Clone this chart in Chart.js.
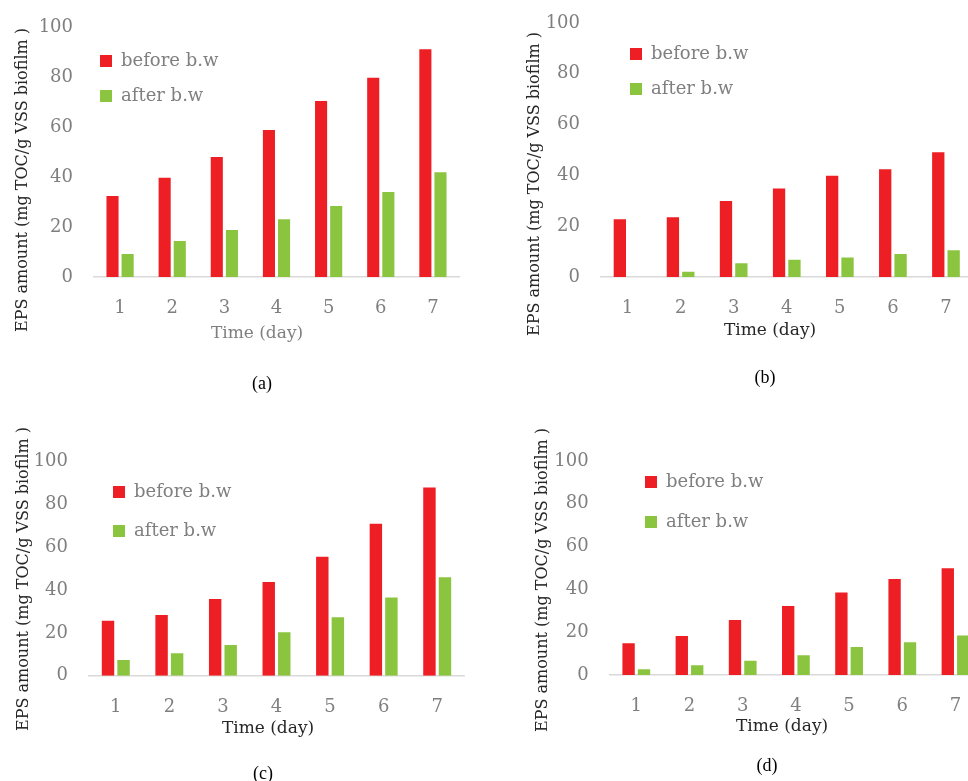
<!DOCTYPE html>
<html>
<head>
<meta charset="utf-8">
<title>EPS amount before / after b.w</title>
<script src="https://cdn.jsdelivr.net/npm/chart.js@4.4.1/dist/chart.umd.min.js"></script>
<style>
  html, body { margin: 0; padding: 0; background: #fff; overflow: hidden; }
  #page { position: relative; width: 968px; height: 781px; overflow: hidden; }
  #page canvas { position: absolute; }
  .txt { position: absolute; white-space: pre; font-family: "DejaVu Serif"; transform: translate(-50%, -50%); line-height: 1; }
  .ytitle { font-size: 16px; color: #262626; transform: translate(-50%, -50%) rotate(-90deg); }
  .xtitle { font-size: 17px; color: #262626; }
  .caption { font-family: "Liberation Serif"; font-size: 18px; color: #000; }
</style>
</head>
<body>
<div id="page"></div>
<script>
/*------------------------------------------------
    データ
------------------------------------------------*/
const days = ['1', '2', '3', '4', '5', '6', '7'];
const yTicks = [0, 20, 40, 60, 80, 100];
const seriesNames = ['before b.w', 'after b.w'];

// (a)
const beforeA = [32.4, 39.7, 48.0, 58.8, 70.4, 79.7, 91.1];
const afterA  = [9.2, 14.4, 18.8, 23.1, 28.4, 34.0, 41.9];
// (b)
const beforeB = [22.7, 23.5, 29.9, 34.8, 39.9, 42.4, 49.1];
const afterB  = [0, 2.1, 5.4, 6.8, 7.7, 9.1, 10.5];
// (c)
const beforeC = [25.7, 28.4, 35.8, 43.8, 55.6, 71.0, 88.0];
const afterC  = [7.3, 10.5, 14.3, 20.3, 27.3, 36.6, 46.0];
// (d)
const beforeD = [14.8, 18.2, 25.7, 32.2, 38.5, 44.9, 49.9];
const afterD  = [2.7, 4.5, 6.7, 9.2, 13.1, 15.3, 18.5];

const RED = '#ED1F24';
const GREEN = '#8BC53F';
const GREY = '#7f7f7f';
const LEGEND_FONT = 18;
const LEGEND_BOX = 12;

Chart.defaults.font.family = '"DejaVu Serif"';

// 凡例をプロット領域の中に置く
const legendSpot = {
    id: 'legendSpot',
    afterLayout(chart, args, opts) {
        const lg = chart.legend;
        if (!lg || opts.x == null) return;
        const pad = opts.gap - LEGEND_FONT;
        lg.left = opts.x - pad;
        lg.top = opts.y - (LEGEND_FONT - LEGEND_BOX) / 2 - pad;
        lg.right = chart.chartArea.right;
        lg.bottom = chart.chartArea.bottom;
        lg.width = lg.right - lg.left;
        lg.height = lg.bottom - lg.top;
    }
};

const panels = [
    { before: beforeA, after: afterA, x: 0, y: 0, w: 484, h: 390,
      area: { l: 94, r: 459, t: 27, b: 277 },
      legend: { x: 100, y: 55, gap: 35 },
      yTitle: { x: 22, y: 180 }, xTitle: { x: 257, y: 332, color: GREY },
      caption: { text: '(a)', x: 262, y: 383 } },
    { before: beforeB, after: afterB, x: 484, y: 0, w: 500, h: 390,
      area: { l: 117, r: 488.5, t: 23, b: 277 },
      legend: { x: 146, y: 48, gap: 35 },
      yTitle: { x: 534, y: 184 }, xTitle: { x: 770, y: 329, color: '#262626' },
      caption: { text: '(b)', x: 765, y: 377 } },
    { before: beforeC, after: afterC, x: 0, y: 390, w: 484, h: 390,
      area: { l: 89, r: 464, t: 71.7, b: 285.7 },
      legend: { x: 113, y: 96, gap: 39 },
      yTitle: { x: 23, y: 579 }, xTitle: { x: 268, y: 727, color: '#262626' },
      caption: { text: '(c)', x: 263, y: 773 } },
    { before: beforeD, after: afterD, x: 484, y: 390, w: 500, h: 390,
      area: { l: 125.7, r: 498.1, t: 71, b: 285 },
      legend: { x: 161, y: 86, gap: 40 },
      yTitle: { x: 542, y: 580 }, xTitle: { x: 782, y: 725, color: '#262626' },
      caption: { text: '(d)', x: 767, y: 765 } }
];

const page = document.getElementById('page');

function addText(cls, text, x, y, color) {
    const d = document.createElement('div');
    d.className = 'txt ' + cls;
    d.textContent = text;
    d.style.left = x + 'px';
    d.style.top = y + 'px';
    if (color) d.style.color = color;
    page.appendChild(d);
}

panels.forEach(p => {
    const canvas = document.createElement('canvas');
    canvas.width = p.w;
    canvas.height = p.h;
    canvas.style.left = p.x + 'px';
    canvas.style.top = p.y + 'px';
    canvas.style.width = p.w + 'px';
    canvas.style.height = p.h + 'px';
    page.appendChild(canvas);

    new Chart(canvas.getContext('2d'), {
        type: 'bar',
        data: {
            labels: days,
            datasets: [
                { label: seriesNames[0], data: p.before, backgroundColor: RED,
                  categoryPercentage: 0.58, barPercentage: 0.8, borderWidth: 0 },
                { label: seriesNames[1], data: p.after, backgroundColor: GREEN,
                  categoryPercentage: 0.58, barPercentage: 0.8, borderWidth: 0 }
            ]
        },
        options: {
            responsive: false,
            animation: false,
            devicePixelRatio: 1,
            layout: { padding: { left: 0, top: p.area.t, right: p.w - p.area.r, bottom: 0 } },
            scales: {
                x: {
                    grid: { display: false, drawTicks: false },
                    border: { display: true, color: '#d9d9d9', width: 1.5 },
                    ticks: { color: GREY, font: { size: 18 }, padding: 21 },
                    afterFit(s) {
                        s.height = p.h - p.area.b;
                        s.paddingLeft = 0;
                        s.paddingRight = 0;
                    }
                },
                y: {
                    min: 0,
                    max: 100,
                    grid: { display: false, drawTicks: false },
                    border: { display: false },
                    ticks: { color: GREY, font: { size: 18 }, padding: 21 },
                    afterBuildTicks(s) { s.ticks = yTicks.map(v => ({ value: v })); },
                    afterFit(s) {
                        s.width = p.area.l;
                        // ラベルのはみ出し分で上端がずれないように
                        s.paddingTop = 0;
                        s.paddingBottom = 0;
                    }
                }
            },
            plugins: {
                tooltip: { enabled: false },
                legend: {
                    position: 'chartArea',
                    align: 'start',
                    labels: {
                        boxWidth: LEGEND_BOX,
                        boxHeight: LEGEND_BOX,
                        padding: p.legend.gap - LEGEND_FONT,
                        color: GREY,
                        font: { size: LEGEND_FONT }
                    }
                },
                legendSpot: p.legend
            }
        },
        plugins: [legendSpot]
    });

    addText('ytitle', 'EPS amount (mg TOC/g VSS biofilm )', p.yTitle.x, p.yTitle.y);
    addText('xtitle', 'Time (day)', p.xTitle.x, p.xTitle.y, p.xTitle.color);
    addText('caption', p.caption.text, p.caption.x, p.caption.y);
});
</script>
</body>
</html>
